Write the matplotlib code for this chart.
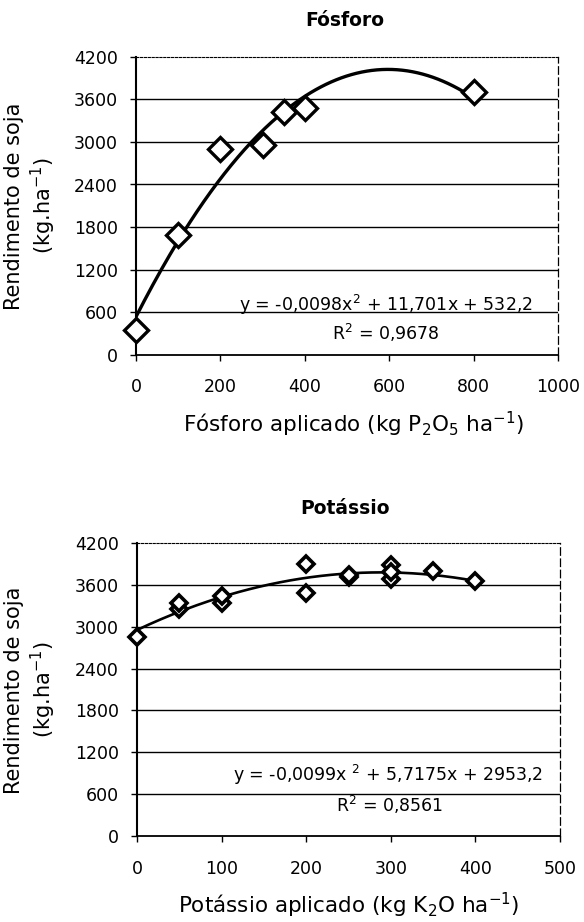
import matplotlib.pyplot as plt
import numpy as np

plt.rcParams['font.family'] = ['DejaVu Sans']
plt.rcParams['mathtext.default'] = 'regular'

# Fósforo
p_dose = [0, 100, 200, 300, 350, 400, 800]
p_yield = [350, 1680, 2900, 2960, 3420, 3480, 3700]
p_coef = [-0.0098, 11.701, 532.2]
p_eq = 'y = -0,0098x$^2$ + 11,701x + 532,2'
p_r2 = 'R$^2$ = 0,9678'

# Potássio
k_dose = [0, 50, 50, 100, 100, 200, 200, 250, 250, 300, 300, 300, 350, 400]
k_yield = [2850, 3260, 3340, 3340, 3440, 3900, 3480, 3710, 3740, 3880, 3680, 3780, 3800, 3660]
k_coef = [-0.0099, 5.7175, 2953.2]
k_eq = 'y = -0,0099x $^2$ + 5,7175x + 2953,2'
k_r2 = 'R$^2$ = 0,8561'

y_ticks = [0, 600, 1200, 1800, 2400, 3000, 3600, 4200]

W, H = 584, 922
fig = plt.figure(figsize=(W / 100, H / 100), dpi=100)
ax1 = fig.add_axes([136 / W, 1 - 354.5 / H, 422 / W, 297.5 / H])
ax2 = fig.add_axes([137 / W, 1 - 836 / H, 423 / W, 293 / H])


def style(ax, xmax, xstep):
    ax.set_xlim(0, xmax)
    ax.set_ylim(0, 4200)
    ax.set_yticks(y_ticks)
    ax.set_xticks(np.arange(0, xmax + 1, xstep))
    for y in y_ticks[1:-1]:
        ax.axhline(y, color='black', lw=1.0, zorder=1)
    ax.spines['top'].set_linestyle((0, (2, 1.5)))
    ax.spines['top'].set_linewidth(0.8)
    ax.spines['right'].set_linestyle((0, (6, 3)))
    ax.spines['right'].set_linewidth(0.9)
    ax.spines['left'].set_linewidth(1.5)
    ax.spines['bottom'].set_linewidth(1.3)
    ax.tick_params(direction='out', length=4, width=1, labelsize=12.5)
    ax.tick_params(axis='y', pad=9)
    ax.tick_params(axis='x', pad=13)


def ylabel(yc):
    fig.text(31 / W, 1 - yc / H, 'Rendimento de soja\n(kg.ha$^{-1}$)', rotation=90,
             ha='center', va='center', fontsize=15, linespacing=1.2, multialignment='center')


# Fósforo panel
style(ax1, 1000, 200)
xs = np.linspace(0, 800, 200)
ax1.plot(xs, np.polyval(p_coef, xs), color='black', lw=2.4, zorder=3)
ax1.plot(p_dose, p_yield, 'D', ms=12, mfc='white', mec='black', mew=2.4,
         clip_on=False, zorder=4)
ax1.text(592, 620, p_eq, ha='center', va='baseline', fontsize=12.5)
ax1.text(592, 303, p_r2, ha='center', va='center', fontsize=12.5)
fig.text(345 / W, 1 - 21 / H, 'Fósforo', ha='center', va='center',
         fontsize=13.5, fontweight='bold')
fig.text(183 / W, 1 - 432 / H, 'Fósforo aplicado (kg P$_2$O$_5$ ha$^{-1}$)',
         ha='left', va='baseline', fontsize=15.5)
ylabel(206)

# Potássio panel
style(ax2, 500, 100)
xs = np.linspace(0, 400, 200)
ax2.plot(xs, np.polyval(k_coef, xs), color='black', lw=1.9, zorder=3)
ax2.plot(k_dose, k_yield, 'D', ms=8.5, mfc='white', mec='black', mew=2.6,
         clip_on=False, zorder=4)
ax2.text(297, 874, k_eq, ha='center', va='center', fontsize=12.5)
ax2.text(298, 444, k_r2, ha='center', va='center', fontsize=12.5)
fig.text(345 / W, 1 - 508 / H, 'Potássio', ha='center', va='center',
         fontsize=13.5, fontweight='bold')
fig.text(178 / W, 1 - 913 / H, 'Potássio aplicado (kg K$_2$O ha$^{-1}$)',
         ha='left', va='baseline', fontsize=15.5)
ylabel(690)

fig.savefig('out.png', dpi=100)
